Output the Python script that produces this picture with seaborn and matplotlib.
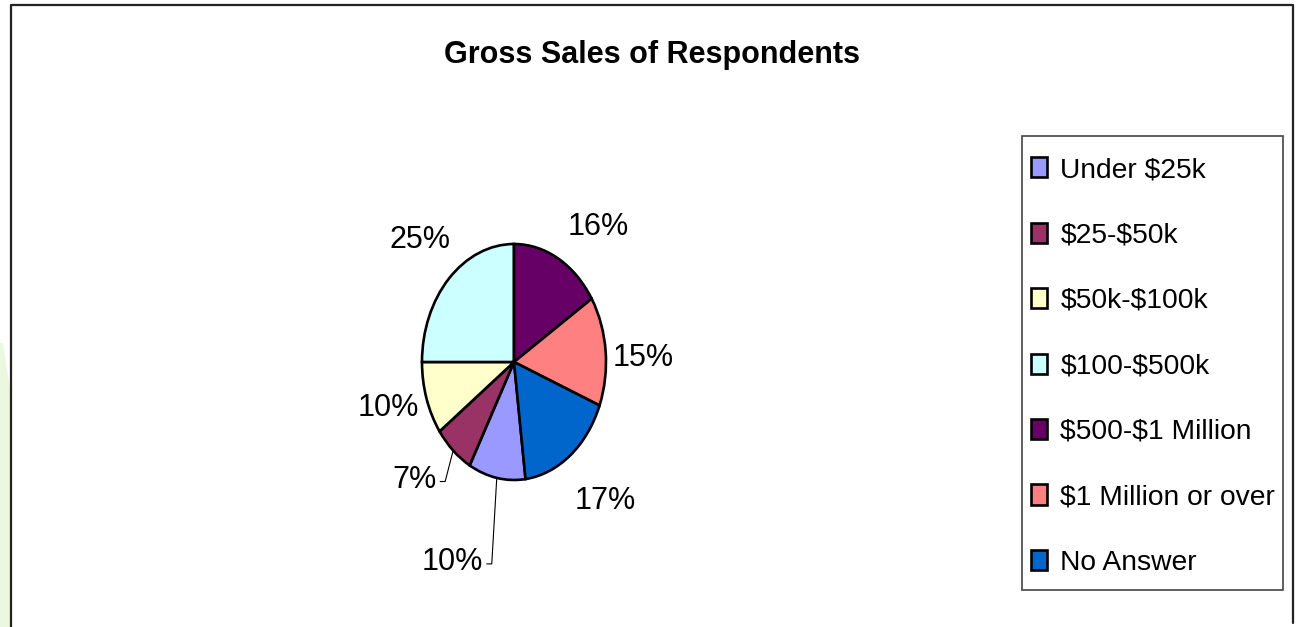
import matplotlib
matplotlib.use("Agg")
import matplotlib.pyplot as plt
import seaborn as sns
import numpy as np
from matplotlib.patches import Polygon, Rectangle
from matplotlib.lines import Line2D

# ---------------- data ----------------
categories = ["Under $25k", "$25-$50k", "$50k-$100k", "$100-$500k",
              "$500-$1 Million", "$1 Million or over", "No Answer"]
shares = [10, 7, 10, 25, 16, 15, 17]
pct_labels = ["10%", "7%", "10%", "25%", "16%", "15%", "17%"]
colors = ["#9999FF", "#993366", "#FFFFCC", "#CCFFFF", "#660066", "#FF8080", "#0066CC"]
title = "Gross Sales of Respondents"

# ---------------- style ----------------
sns.set_theme(style="white")
plt.rcParams["font.family"] = ["Liberation Sans", "DejaVu Sans"]
plt.rcParams["text.parse_math"] = False
plt.rcParams["text.color"] = "black"
pct_size = 22

W, H = 1301, 627
fig = plt.figure(figsize=(W / 100, H / 100), dpi=100)
fig.patch.set_facecolor("white")

# faint green shape at the left edge
fig.add_artist(Polygon([(0, 1 - 343 / H), (3 / W, 1 - 343 / H), (10 / W, 1 - 390 / H),
                        (10 / W, 0), (0, 0)], closed=True, transform=fig.transFigure,
                       facecolor="#ecf7df", edgecolor="none", zorder=0))
# outer frame (left, top, right)
fig.add_artist(Line2D([11 / W, 11 / W, 1293 / W, 1293 / W],
                      [0, 1 - 5 / H, 1 - 5 / H, 1 - 623 / H],
                      transform=fig.transFigure, color="#222222", lw=1.6))

cx, cy = 514, 362      # pie centre (px)
rx, ry = 92, 118       # pie radii (px)
axw, axh = 600, 500
ax = fig.add_axes([(cx - axw / 2) / W, (H - cy - axh / 2) / H, axw / W, axh / H])

start = 90 + 360 * sum(shares[:4]) / sum(shares)
wedges, _ = ax.pie(shares, colors=colors, startangle=start, counterclock=False,
                   wedgeprops=dict(edgecolor="black", linewidth=1.9))
ax.set_aspect("auto")
ax.set_xlim(-axw / 2 / rx, axw / 2 / rx)
ax.set_ylim(-axh / 2 / ry, axh / 2 / ry)
ax.axis("off")

# ---------------- labels ----------------
gap = 14  # px
leaders = {0: (-5, -86), 1: (-8, -31)}  # px offset of the leader end from wedge edge
nudges = {2: (6, 5), 3: (11, -14), 4: (3, -4), 5: (-7, 8), 6: (-4, 20)}  # px (right, down)
for i, (w, lab) in enumerate(zip(wedges, pct_labels)):
    th = np.deg2rad((w.theta1 + w.theta2) / 2)
    ex, ey = np.cos(th), np.sin(th)          # edge point in data units
    if i in leaders:
        ox, oy = leaders[i]
        lx, ly = ex + ox / rx, ey + oy / ry
        tx = lx - 5 / rx
        ax.plot([ex, lx, tx], [ey, ly, ly], color="black", lw=0.8, solid_joinstyle="miter")
        ax.text(tx - 4 / rx, ly + 2 / ry, lab, ha="right", va="center",
                fontsize=pct_size, color="black")
        continue
    c, s = np.cos(th), np.sin(th)
    ndx, ndy = nudges.get(i, (0, 0))
    px = ex + (gap * c + ndx) / rx
    py = ey + (gap * s - ndy) / ry
    ha = "left" if c > 0.15 else ("right" if c < -0.15 else "center")
    va = "bottom" if s > 0.5 else ("top" if s < -0.5 else "center")
    ax.text(px, py, lab, ha=ha, va=va, fontsize=pct_size, color="black")

# ---------------- title ----------------
fig.text(652 / W, 1 - 55 / H, title, ha="center", va="center",
         fontsize=22, fontweight="bold", color="black")

# ---------------- legend ----------------
fig.add_artist(Rectangle((1022 / W, 1 - 590 / H), (1283 - 1022) / W, (590 - 136) / H,
                         transform=fig.transFigure, facecolor="white",
                         edgecolor="#444444", lw=1.2, zorder=2))
leg = fig.legend(wedges, categories, loc="upper left",
                 bbox_to_anchor=(1031 / W, 1 - 157 / H), bbox_transform=fig.transFigure,
                 borderaxespad=0, frameon=False, borderpad=0,
                 fontsize=20.3, labelspacing=1.40, labelcolor="black",
                 handlelength=0.57, handleheight=0.72, handletextpad=0.47)
leg.set_zorder(3)

fig.savefig("out.png", dpi=100, facecolor="white")
